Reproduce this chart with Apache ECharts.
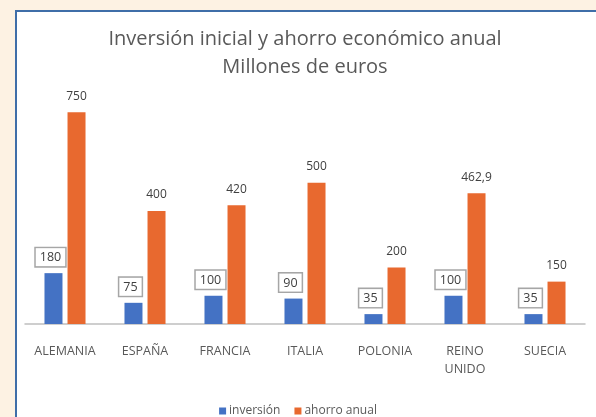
<!DOCTYPE html>
<html>
<head>
<meta charset="utf-8">
<script src="https://cdn.jsdelivr.net/npm/echarts@6/dist/echarts.min.js"></script>
<style>
html,body{margin:0;padding:0;background:#FDF2E3;}
#c{width:596px;height:417px;}
</style>
</head>
<body>
<div id="c"></div>
<script>
const categories = ['ALEMANIA', 'ESPAÑA', 'FRANCIA', 'ITALIA', 'POLONIA', 'REINO UNIDO', 'SUECIA'];
const inversion = [180, 75, 100, 90, 35, 100, 35];
const ahorroAnual = [750, 400, 420, 500, 200, 462.9, 150];
const seriesNames = ['inversión', 'ahorro anual'];
const titleLines = ['Inversión inicial y ahorro económico anual', 'Millones de euros'];

const FONT = '"Open Sans", "Noto Sans", sans-serif';
const fmt = v => String(v).replace('.', ',');

const chart = echarts.init(document.getElementById('c'));
chart.setOption({
  backgroundColor: '#FDF2E3',
  animation: false,
  graphic: [{
    type: 'rect', z: -10, silent: true,
    shape: {x: 16, y: 11, width: 700, height: 500},
    style: {fill: '#FFFFFF', stroke: '#3F6EA8', lineWidth: 2}
  }],
  title: {
    text: titleLines.join('\n'),
    left: 300,
    top: 20,
    textAlign: 'center',
    textStyle: {fontFamily: FONT, fontSize: 20, fontWeight: 'normal', color: '#595959', lineHeight: 28}
  },
  legend: {
    top: 400,
    left: 'center',
    itemWidth: 7, itemHeight: 7, itemGap: 14,
    icon: 'rect',
    textStyle: {fontFamily: FONT, fontSize: 12, color: '#595959', padding: [0, 0, 0, -2]},
    data: seriesNames
  },
  grid: {left: 25, right: 11, top: 98, bottom: 93, containLabel: false},
  xAxis: {
    type: 'category',
    data: categories,
    axisLine: {lineStyle: {color: '#BFBFBF', width: 1.5}},
    axisTick: {show: false},
    axisLabel: {
      fontFamily: FONT, fontSize: 12.5, color: '#595959', margin: 18, lineHeight: 18,
      interval: 0,
      formatter: v => v.replace(' ', '\n')
    }
  },
  yAxis: {
    type: 'value', min: 0, max: 800, show: false,
    splitLine: {show: false}
  },
  series: [{
    name: seriesNames[0],
    type: 'bar',
    data: inversion,
    barWidth: 18,
    barGap: '28%',
    itemStyle: {color: '#4472C4'},
    label: {
      show: true, position: 'top', distance: 7,
      formatter: p => fmt(p.value),
      fontFamily: FONT, fontSize: 12.5, color: '#404040',
      backgroundColor: '#FFFFFF', borderColor: '#A6A6A6', borderWidth: 1.5,
      padding: [3, 4, 2, 4], offset: [-3, 0]
    }
  }, {
    name: seriesNames[1],
    type: 'bar',
    data: ahorroAnual,
    barWidth: 18,
    itemStyle: {color: '#E8692F'},
    label: {
      show: true, position: 'top', distance: 10,
      formatter: p => fmt(p.value),
      fontFamily: FONT, fontSize: 12, color: '#404040'
    }
  }]
});
</script>
</body>
</html>
